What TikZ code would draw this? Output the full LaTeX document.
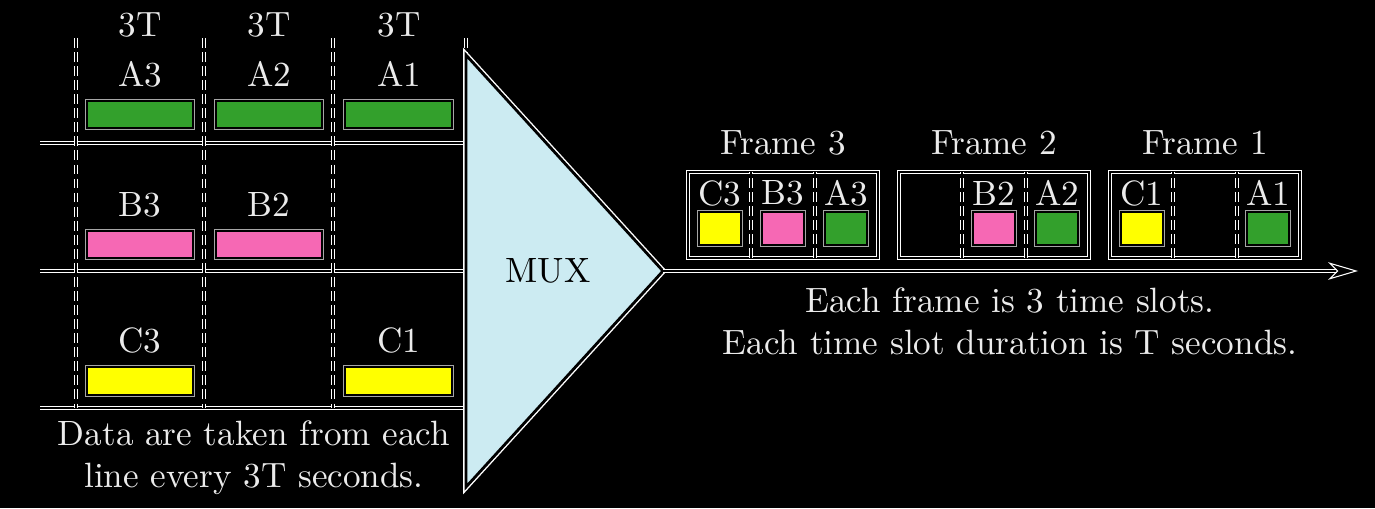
\documentclass[tikz,border=0pt]{standalone}
\usepackage{tikz}
\usetikzlibrary{arrows.meta,shapes,positioning,calc}
\definecolor{slotgreen}{RGB}{51,160,44}
\definecolor{slotpink}{RGB}{246,104,180}
\definecolor{slotyellow}{RGB}{255,255,0}
\definecolor{muxblue}{RGB}{204,235,242}
\tikzset{halo/.style={draw=white, double=black, line width=0.3pt, double distance=0.55pt},
  colsep/.style={halo, dash pattern=on 2.8pt off 1.2pt},
  bar/.style={draw=black, line width=0.6pt, preaction={draw=white!65!black, line width=1.4pt}},
  txt/.style={text=white!92!black, inner sep=1pt}}

\begin{document}
\begin{tikzpicture}
\fill[black] (0,0) rectangle (13.75,5.08);
\useasboundingbox (0,0) rectangle (13.75,5.08);

% input lines
\draw[halo] (0.40,3.65) -- (4.66,3.65);
\draw[halo] (0.40,2.37) -- (4.66,2.37);
\draw[halo] (0.40,1.00) -- (4.66,1.00);

\foreach \x in {0.76,2.04,3.33,4.66}
         {
           \draw[colsep] (\x,4.70) -- (\x,1.00);
         }

\node[txt] (t3) at (1.40,4.83) {3T};
\node[txt] (t2) at (2.69,4.83) {3T};
\node[txt] (t1) at (3.99,4.83) {3T};

\node[txt] (la3) at (1.40,4.34) {A3};
\node[txt] (la2) at (2.69,4.34) {A2};
\node[txt] (la1) at (3.99,4.34) {A1};
\node[txt] (lb3) at (1.40,3.03) {B3};
\node[txt] (lb2) at (2.69,3.03) {B2};
\node[txt] (lc3) at (1.40,1.68) {C3};
\node[txt] (lc1) at (3.99,1.68) {C1};

\filldraw[bar,fill=slotgreen] (0.87,3.80) rectangle (1.93,4.07);
\filldraw[bar,fill=slotgreen] (2.16,3.80) rectangle (3.22,4.07);
\filldraw[bar,fill=slotgreen] (3.45,3.80) rectangle (4.52,4.07);
\filldraw[bar,fill=slotpink] (0.87,2.50) rectangle (1.93,2.77);
\filldraw[bar,fill=slotpink] (2.16,2.50) rectangle (3.22,2.77);
\filldraw[bar,fill=slotyellow] (0.87,1.13) rectangle (1.93,1.41);
\filldraw[bar,fill=slotyellow] (3.45,1.13) rectangle (4.52,1.41);

\node[txt,align=center] (note1) at (2.54,0.50) {Data are taken from each\\line every 3T seconds.};

% multiplexer
\coordinate (muxtop) at (4.66,4.53);
\coordinate (muxtip) at (6.63,2.37);
\coordinate (muxbot) at (4.66,0.21);
\coordinate (lineend) at (13.58,2.37);
\filldraw[fill=muxblue,draw=black,line width=0.8pt,preaction={draw=white,line width=1.6pt}]
  (muxtop) -- (muxtip) -- (muxbot) -- cycle;
\node[text=black] (mux) at (5.48,2.37) {MUX};
\draw[halo,-{Stealth[open,length=8.5pt,width=5pt,inset=2.5pt]}] (muxtip) -- (lineend);

% frames
\foreach \fx/\fn in {6.88/3, 8.99/2, 11.10/1}
         {
           \draw[halo] (\fx,2.50) rectangle ++(1.90,0.86);
           \draw[colsep] (\fx+0.633,2.50) -- ++(0,0.86);
           \draw[colsep] (\fx+1.267,2.50) -- ++(0,0.86);
           \node[txt] (frame\fn) at (\fx+0.95,3.65) {Frame \fn};
         }

\tikzset{sq/.style={bar,minimum width=0.42cm,minimum height=0.33cm,inner sep=0pt}}
\node[txt] (fc3) at (7.20,3.15) {C3};
\node[txt] (fb3) at (7.83,3.15) {B3};
\node[txt] (fa3) at (8.46,3.15) {A3};
\node[sq,fill=slotyellow] (sc3) at (7.20,2.795) {};
\node[sq,fill=slotpink] (sb3) at (7.83,2.795) {};
\node[sq,fill=slotgreen] (sa3) at (8.46,2.795) {};

\node[txt] (fb2) at (9.94,3.15) {B2};
\node[txt] (fa2) at (10.57,3.15) {A2};
\node[sq,fill=slotpink] (sb2) at (9.94,2.795) {};
\node[sq,fill=slotgreen] (sa2) at (10.57,2.795) {};

\node[txt] (fc1) at (11.42,3.15) {C1};
\node[txt] (fa1) at (12.68,3.15) {A1};
\node[sq,fill=slotyellow] (sc1) at (11.42,2.795) {};
\node[sq,fill=slotgreen] (sa1) at (12.68,2.795) {};

\node[txt,align=center] (note2) at (10.10,1.87) {Each frame is 3 time slots.\\Each time slot duration is T seconds.};

\end{tikzpicture}
\end{document}
